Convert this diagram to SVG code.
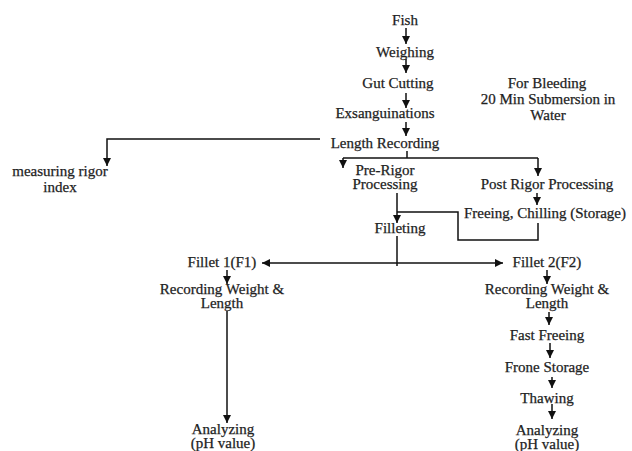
<svg xmlns="http://www.w3.org/2000/svg" width="632" height="451" viewBox="0 0 632 451">
  <defs>
    <marker id="arrow" viewBox="0 0 8 8" refX="8" refY="4" markerWidth="8" markerHeight="8" markerUnits="userSpaceOnUse" orient="auto-start-reverse">
      <path d="M0,0 L8,4 L0,8 z" fill="#111"/>
    </marker>
    <style>
      text { font-family: "Liberation Serif", "Times New Roman", serif; font-size: 15px; fill: #222; stroke: #222; stroke-width: 0.25; text-anchor: middle; }
      .line { fill: none; stroke: #111; stroke-width: 1.5; }
      .arr { marker-end: url(#arrow); }
    </style>
  </defs>
  <rect width="632" height="451" fill="#fff"/>

  <g id="connectors">
    <path class="line arr" d="M406,28 V44"/>
    <path class="line arr" d="M406,59 V73"/>
    <path class="line arr" d="M406,93 V108"/>
    <path class="line arr" d="M406,122 V136"/>
    <path class="line arr" d="M320,139 H107 V166"/>
    <path class="line" d="M407,151 V158"/>
    <path class="line" d="M343,158 H538"/>
    <path class="line arr" d="M343,158 V168"/>
    <path class="line arr" d="M538,158 V176"/>
    <path class="line arr" d="M537,193 V205"/>
    <path class="line arr" d="M397,193 V223"/>
    <path class="line" d="M397,212 H458 V240 H538 V223"/>
    <path class="line" d="M397,236 V266"/>
    <path class="line" d="M262,263 H503" marker-start="url(#arrow)" marker-end="url(#arrow)"/>
    <path class="line arr" d="M227,270 V284"/>
    <path class="line arr" d="M227,311 V423"/>
    <path class="line arr" d="M547,270 V284"/>
    <path class="line arr" d="M549,312 V325"/>
    <path class="line arr" d="M550,343 V358"/>
    <path class="line arr" d="M552,377 V388"/>
    <path class="line arr" d="M552,404 V419"/>
  </g>

  <g id="fish"><text x="405" y="25">Fish</text></g>
  <g id="weighing"><text x="405" y="57">Weighing</text></g>
  <g id="gut-cutting"><text x="398" y="88">Gut Cutting</text></g>
  <g id="exsanguinations"><text x="385" y="118">Exsanguinations</text></g>
  <g id="bleeding-note">
    <text x="547" y="88">For Bleeding</text>
    <text x="548" y="104">20 Min Submersion in</text>
    <text x="548" y="120">Water</text>
  </g>
  <g id="length-recording"><text x="385" y="148">Length Recording</text></g>
  <g id="rigor-index">
    <text x="60" y="176">measuring rigor</text>
    <text x="60" y="192">index</text>
  </g>
  <g id="pre-rigor">
    <text x="385" y="175">Pre-Rigor</text>
    <text x="385" y="189">Processing</text>
  </g>
  <g id="post-rigor"><text x="547" y="189">Post Rigor Processing</text></g>
  <g id="freezing-chilling"><text x="545" y="218">Freeing, Chilling (Storage)</text></g>
  <g id="filleting"><text x="400" y="233">Filleting</text></g>
  <g id="fillet-1"><text x="222" y="267">Fillet 1(F1)</text></g>
  <g id="fillet-2"><text x="547" y="267">Fillet 2(F2)</text></g>
  <g id="record-1">
    <text x="222" y="294">Recording Weight &amp;</text>
    <text x="222" y="308">Length</text>
  </g>
  <g id="record-2">
    <text x="547" y="294">Recording Weight &amp;</text>
    <text x="547" y="308">Length</text>
  </g>
  <g id="fast-freezing"><text x="547" y="340">Fast Freeing</text></g>
  <g id="frozen-storage"><text x="547" y="372">Frone Storage</text></g>
  <g id="thawing"><text x="547" y="403">Thawing</text></g>
  <g id="analyzing-1">
    <text x="223" y="434">Analyzing</text>
    <text x="223" y="448">(pH value)</text>
  </g>
  <g id="analyzing-2">
    <text x="547" y="435">Analyzing</text>
    <text x="547" y="449">(pH value)</text>
  </g>
</svg>
